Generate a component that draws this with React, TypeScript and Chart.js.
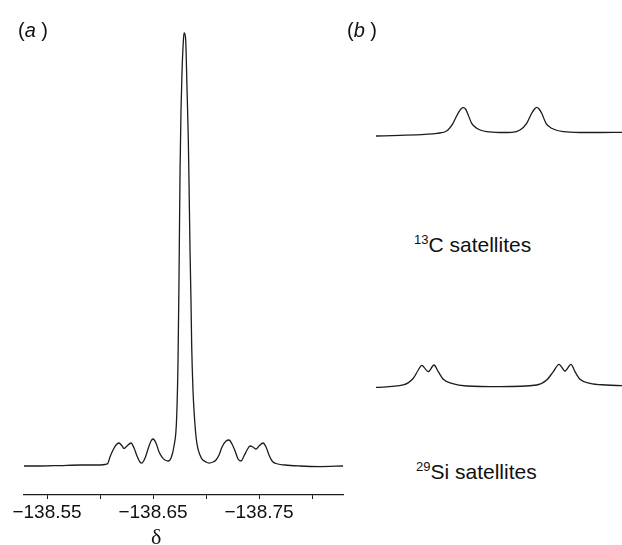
import React, { useEffect, useRef } from 'react';
import { Chart, registerables } from 'chart.js';

Chart.register(...registerables);

// Panel (a): 19F spectrum, chemical shift (ppm) and relative intensity
const shiftA = [
  -138.5283, -138.5434, -138.5623, -138.5811, -138.5953, -138.6047, -138.6075,
  -138.6094, -138.6123, -138.6151, -138.6179, -138.6208, -138.6226, -138.6255,
  -138.6292, -138.6321, -138.6349, -138.6377, -138.6396, -138.6425, -138.6453,
  -138.6481, -138.65, -138.6528, -138.6557, -138.6585, -138.6613, -138.6642,
  -138.667, -138.6698, -138.6722, -138.6736, -138.6745, -138.6755, -138.6764,
  -138.6774, -138.6788, -138.6794, -138.6807, -138.6821, -138.6833, -138.6842,
  -138.6849, -138.6858, -138.6865, -138.6877, -138.689, -138.6906, -138.6922,
  -138.6943, -138.6962, -138.7, -138.7028, -138.7066, -138.7094, -138.7123,
  -138.7151, -138.7189, -138.7217, -138.7245, -138.7274, -138.7302, -138.733,
  -138.7358, -138.7387, -138.7415, -138.7443, -138.7472, -138.75, -138.7538,
  -138.7566, -138.7594, -138.7623, -138.766, -138.7745, -138.7887, -138.8075,
  -138.8292,
];
const intensityA = [
  -0.23, -0.23, -0.12, 0, 0, 0.12, 0.46,
  1.85, 3.47, 4.63, 5.09, 4.4, 3.82, 4.4,
  5.09, 3.94, 2.08, 0.69, 0.46, 1.62, 3.7,
  5.56, 6.02, 5.09, 3.01, 1.85, 1.16, 0.93,
  1.62, 4.4, 10.42, 24.31, 42.82, 68.29, 82.18,
  91.44, 98.84, 100, 98.84, 86.81, 75.23, 61.34,
  49.77, 38.19, 27.31, 17.36, 11.34, 6.48, 3.94,
  2.31, 1.39, 0.69, 0.46, 0.69, 1.16, 2.31,
  4.17, 5.56, 5.79, 4.86, 3.24, 1.39, 0.93,
  2.08, 3.47, 4.4, 4.17, 3.7, 4.4, 5.09,
  4.17, 2.31, 0.93, 0.35, 0, -0.23, -0.35,
  -0.23,
];
const tickLabelsA = ['−138.55', '−138.65', '−138.75'];

// Panel (b): satellites, frequency offset (arbitrary units) and relative intensity
const offset13C = [
  -123, -99, -74, -62, -52, -46, -41, -38, -35.7, -33.5, -31.7, -27.3, -22.3,
  -12.3, 1, 13, 21, 27.7, 32.7, 35.5, 37.7, 40, 42.7, 47, 52.7, 64.3, 81, 101, 123,
];
const intensity13C = [
  -14.6, -11.7, -7.5, -3.3, 7.5, 38.3, 80, 97.9, 103.3, 97.9, 82.5, 38.3, 17.5,
  3.3, 0, 0.8, 10.4, 38.3, 80, 97.9, 105, 97.9, 80, 38.3, 17.5, 3.3, 0, 0, 0.8,
];
const offset29Si = [
  -123, -95.7, -85.7, -80.7, -77.3, -70.7, -65, -60.7, -55.7, -47.3, -32.3, 1,
  37.7, 47.7, 54.3, 60, 66, 72, 76, 81, 91, 107.7, 123,
];
const intensity29Si = [
  -3.3, 6.3, 34.2, 68.8, 88.3, 61.7, 89.6, 61.7, 30, 13.3, 2.1, -0.8,
  6.3, 27.1, 61.7, 92.5, 64.6, 92.5, 61.7, 30, 13.3, 6.3, 3.3,
];

const SANS = "'Liberation Sans', Arial, Helvetica, sans-serif";
const INK = '#1c1c1c';

function lineDataset(xs: number[], ys: number[]) {
  return {
    data: xs.map((x, i) => ({ x, y: ys[i] })),
    borderColor: INK,
    borderWidth: 1.3,
    pointRadius: 0,
    fill: false,
    cubicInterpolationMode: 'monotone' as const,
  };
}

function SpectrumA() {
  const ref = useRef<HTMLCanvasElement | null>(null);
  useEffect(() => {
    if (!ref.current) return;
    const chart = new Chart(ref.current, {
      type: 'line',
      data: { datasets: [lineDataset(shiftA, intensityA)] },
      options: {
        animation: false,
        responsive: false,
        maintainAspectRatio: false,
        layout: { padding: { left: 24, right: 17, top: 20, bottom: 0 } },
        plugins: { legend: { display: false }, tooltip: { enabled: false } },
        scales: {
          x: {
            type: 'linear',
            reverse: true,
            min: -138.8292,
            max: -138.5283,
            afterFit: (s: any) => {
              s.height = 50;
            },
            border: { display: true, color: INK, width: 1.2 },
            grid: {
              display: true,
              drawOnChartArea: false,
              drawTicks: true,
              tickLength: 4,
              color: INK,
              lineWidth: 1,
            },
            ticks: {
              stepSize: 0.05,
              includeBounds: false,
              autoSkip: false,
              maxRotation: 0,
              padding: 2,
              color: '#111',
              font: { family: SANS, size: 19 },
              callback: (v: any) => {
                const s = '−' + Math.abs(Number(v)).toFixed(2);
                return tickLabelsA.includes(s) ? s : '';
              },
            },
          },
          y: { display: false, min: -6.94, max: 103.0 },
        },
      },
    });
    return () => chart.destroy();
  }, []);
  return (
    <canvas
      ref={ref}
      width={360}
      height={545}
      style={{ position: 'absolute', left: 0, top: 0, width: 360, height: 545 }}
    />
  );
}

function Satellite({
  xs,
  ys,
  top,
  yMin,
  yMax,
}: {
  xs: number[];
  ys: number[];
  top: number;
  yMin: number;
  yMax: number;
}) {
  const ref = useRef<HTMLCanvasElement | null>(null);
  useEffect(() => {
    if (!ref.current) return;
    const chart = new Chart(ref.current, {
      type: 'line',
      data: { datasets: [lineDataset(xs, ys)] },
      options: {
        animation: false,
        responsive: false,
        maintainAspectRatio: false,
        layout: { padding: 0 },
        plugins: { legend: { display: false }, tooltip: { enabled: false } },
        scales: {
          x: { type: 'linear', display: false, min: -123, max: 123 },
          y: { display: false, min: yMin, max: yMax },
        },
      },
    });
    return () => chart.destroy();
  }, []);
  return (
    <canvas
      ref={ref}
      width={246}
      height={60}
      style={{ position: 'absolute', left: 376, top, width: 246, height: 60 }}
    />
  );
}

const textBase: React.CSSProperties = {
  position: 'absolute',
  fontFamily: SANS,
  color: '#111',
  whiteSpace: 'nowrap',
  lineHeight: 1,
};

export default function App() {
  return (
    <div
      style={{
        position: 'absolute',
        left: 0,
        top: 0,
        width: 622,
        height: 545,
        background: '#fff',
        overflow: 'hidden',
      }}
    >
      <SpectrumA />
      <Satellite xs={offset13C} ys={intensity13C} top={90} yMin={-72.9} yMax={177.1} />
      <Satellite xs={offset29Si} ys={intensity29Si} top={340} yMin={-56.25} yMax={193.75} />
      <div style={{ ...textBase, left: 18, top: 20, fontSize: 20 }}>
        (<i>a</i> )
      </div>
      <div style={{ ...textBase, left: 347, top: 20, fontSize: 20 }}>
        (<i>b</i> )
      </div>
      <div style={{ ...textBase, left: 414, top: 234, fontSize: 21 }}>
        <span style={{ fontSize: 13, position: 'relative', top: -8 }}>13</span>C satellites
      </div>
      <div style={{ ...textBase, left: 416, top: 461, fontSize: 21 }}>
        <span style={{ fontSize: 13, position: 'relative', top: -8 }}>29</span>Si satellites
      </div>
      <div
        style={{
          ...textBase,
          left: 151,
          top: 526,
          fontSize: 22,
          fontFamily: "'Liberation Serif', 'DejaVu Serif', serif",
        }}
      >
        δ
      </div>
    </div>
  );
}
